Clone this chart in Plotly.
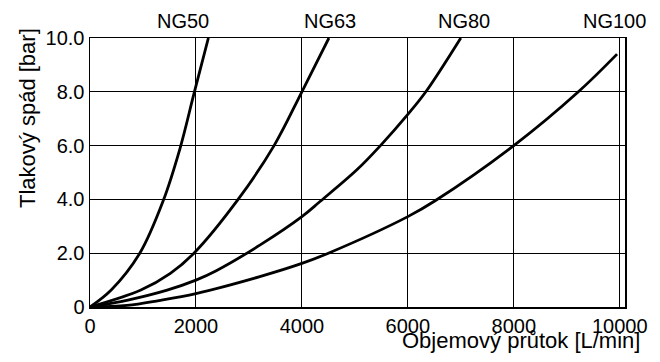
import plotly.graph_objects as go

# Flow [L/min] and pressure drop [bar]
ng50_q = [0, 400, 940, 1382, 1700, 1965, 2235]
ng50_p = [0, 0.63, 2.0, 3.95, 5.9, 7.95, 10.0]

ng63_q = [0, 961, 1517, 1962, 2796, 3475, 4000, 4510]
ng63_p = [0, 0.63, 1.25, 2.0, 4.0, 6.0, 8.0, 10.0]

ng80_q = [0, 714, 1456, 2000, 2384, 3206, 4000, 4342, 5033, 5483, 6000, 6340, 7000]
ng80_p = [0, 0.26, 0.63, 1.0, 1.35, 2.3, 3.36, 3.92, 5.09, 6.0, 7.16, 8.0, 10.0]

ng100_q = [0, 700, 1300, 2000, 3206, 4000, 4500, 6000, 6516, 8000, 9220, 9950]
ng100_p = [0, 0.06, 0.24, 0.5, 1.13, 1.62, 2.0, 3.36, 3.95, 6.0, 8.0, 9.4]

series_names = ["NG50", "NG63", "NG80", "NG100"]
series = [(ng50_q, ng50_p), (ng63_q, ng63_p), (ng80_q, ng80_p), (ng100_q, ng100_p)]

x_ticks = [0, 2000, 4000, 6000, 8000, 10000]
x_tick_text = ["0", "2000", "4000", "6000", "8000", "10000"]
y_ticks = [0, 2, 4, 6, 8, 10]
y_tick_text = ["0", "2.0", "4.0", "6.0", "8.0", "10.0"]

x_title = "Objemový průtok [L/min]"
y_title = "Tlakový spád [bar]"

FONT = "Liberation Sans, Arial, sans-serif"

fig = go.Figure()
for name, (q, p) in zip(series_names, series):
    fig.add_trace(go.Scatter(x=q, y=p, mode="lines", name=name,
                             line=dict(color="black", width=2.8, shape="spline", smoothing=1.0),
                             showlegend=False, hoverinfo="skip"))

# curve labels above the plot
label_pos = [0.174, 0.449, 0.699, 0.981]
for name, xp in zip(series_names, label_pos):
    fig.add_annotation(text=name, x=xp, y=1.063, xref="paper", yref="paper",
                       showarrow=False, xanchor="center", yanchor="middle",
                       font=dict(family=FONT, size=20, color="black"))

fig.add_annotation(text=x_title, x=(642 - 90) / 535, y=-0.123, xref="paper", yref="paper",
                   showarrow=False, xanchor="right", yanchor="middle",
                   font=dict(family=FONT, size=22, color="black"))
fig.add_annotation(text=y_title, x=-(90 - 27.5) / 535, y=(307 - 118.5) / 269, xref="paper", yref="paper",
                   showarrow=False, xanchor="center", yanchor="middle", textangle=-90,
                   font=dict(family=FONT, size=22, color="black"))

fig.update_layout(
    width=660, height=362,
    margin=dict(l=90, r=35, t=38, b=55, autoexpand=False),
    paper_bgcolor="white", plot_bgcolor="white",
    font=dict(family=FONT, size=20, color="black"),
)
fig.update_xaxes(range=[0, 10100], tickvals=x_ticks, ticktext=x_tick_text,
                 showgrid=True, gridcolor="black", gridwidth=1, automargin=False,
                 showline=True, linecolor="black", linewidth=1.5, mirror=True,
                 ticks="", zeroline=False, tickfont=dict(family=FONT, size=20, color="black"))
fig.update_yaxes(range=[0, 10], tickvals=y_ticks, ticktext=y_tick_text,
                 showgrid=True, gridcolor="black", gridwidth=1, automargin=False,
                 showline=True, linecolor="black", linewidth=1.5, mirror=True,
                 ticks="", zeroline=False, tickfont=dict(family=FONT, size=20, color="black"))

fig.write_html("out.html", config={"displayModeBar": False, "staticPlot": True},
               post_script="document.body.style.margin='0px';")
